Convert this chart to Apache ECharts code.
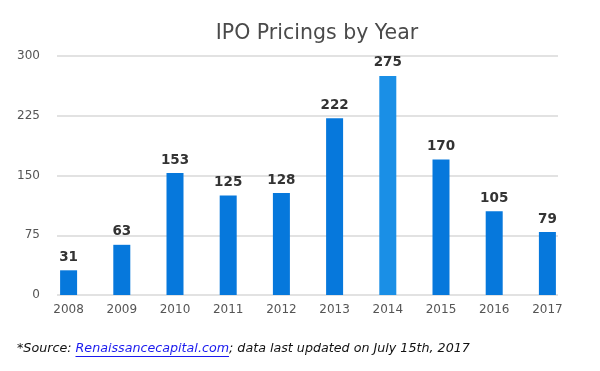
<!DOCTYPE html>
<html><head><meta charset="utf-8">
<script src="https://cdn.jsdelivr.net/npm/echarts@6/dist/echarts.min.js"></script>
<style>html,body{margin:0;padding:0;background:#fff}#c{width:600px;height:371px}</style>
</head><body><div id="c"></div>
<script>
const years = ['2008','2009','2010','2011','2012','2013','2014','2015','2016','2017'];
const pricings = [31, 63, 153, 125, 128, 222, 275, 170, 105, 79];
const highlightYear = '2014';
const yTicks = [0, 75, 150, 225, 300];
const srcPrefix = '*Source: ';
const srcLink = 'Renaissancecapital.com';
const srcSuffix = '; data last updated on July 15th, 2017';

const footFont = 'italic 12.7px "DejaVu Sans"';
const mctx = document.createElement('canvas').getContext('2d');
mctx.font = footFont;
const wPre = mctx.measureText(srcPrefix).width;
const wLink = mctx.measureText(srcLink).width;
const footX = 17, footY = 342;

const chart = echarts.init(document.getElementById('c'));
const footStyle = { fontFamily: 'DejaVu Sans', fontStyle: 'italic', fontSize: 12.7 };
chart.setOption({
  animation: false,
  title: {
    text: 'IPO Pricings by Year',
    left: 312, top: 18, textAlign: 'center',
    textStyle: { fontFamily: 'DejaVu Sans', fontSize: 20.5, fontWeight: 'normal', color: '#4a4a4a' }
  },
  graphic: [{
    type: 'text', x: footX, y: footY,
    style: {
      rich: {
        a: Object.assign({ fill: '#111' }, footStyle),
        l: Object.assign({ fill: '#1a1aee' }, footStyle)
      },
      text: '{a|' + srcPrefix + '}{l|' + srcLink + '}{a|' + srcSuffix + '}'
    }
  }, {
    type: 'line', shape: { x1: footX + wPre, y1: footY + 14.5, x2: footX + wPre + wLink, y2: footY + 14.5 },
    style: { stroke: '#1a1aee', lineWidth: 1 }
  }],
  grid: [
    { left: 42, right: 26, top: 56, bottom: 76 },
    { left: 57, right: 42, top: 56, bottom: 76 }
  ],
  xAxis: [
    { type: 'category', gridIndex: 0, data: years, boundaryGap: true,
      axisLine: { show: false }, axisTick: { show: false },
      axisLabel: { color: '#555', fontFamily: 'DejaVu Sans', fontSize: 12, margin: 9 } },
    { type: 'category', gridIndex: 1, data: years, show: false }
  ],
  yAxis: [
    { type: 'value', gridIndex: 0, min: 0, max: 300, interval: 75, show: false, splitLine: { show: false } },
    { type: 'value', gridIndex: 1, min: yTicks[0], max: yTicks[yTicks.length-1], interval: 75,
      axisLine: { show: false }, axisTick: { show: false },
      axisLabel: { color: '#555', fontFamily: 'DejaVu Sans', fontSize: 12, margin: 17 },
      splitLine: { lineStyle: { color: '#d9d9d9', width: 1.5 } } }
  ],
  series: [{
    type: 'bar', xAxisIndex: 0, yAxisIndex: 0, barWidth: 17,
    data: pricings.map((v, i) => ({
      value: v,
      itemStyle: { color: years[i] === highlightYear ? '#1a8fe6' : '#0678dc' }
    })),
    label: { show: true, position: 'top', distance: 6, color: '#333',
      fontFamily: 'DejaVu Sans', fontWeight: 'bold', fontSize: 13.5 }
  }]
});
</script></body></html>
